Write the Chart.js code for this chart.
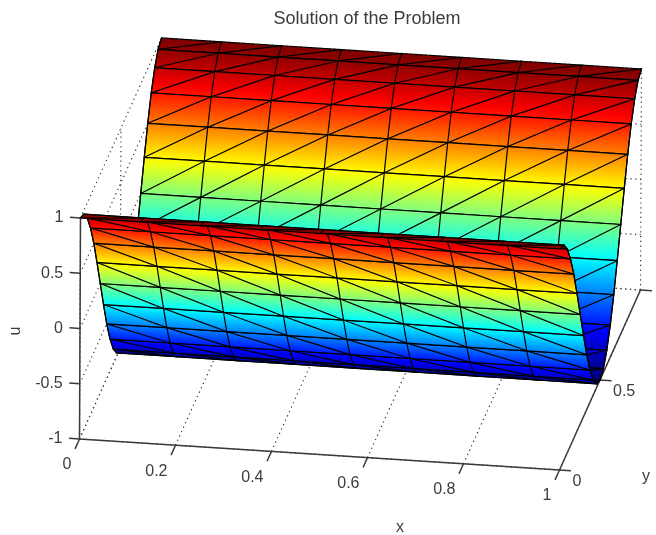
<!DOCTYPE html>
<html>
<head>
<meta charset="utf-8">
<title>Solution of the Problem</title>
<script src="https://cdn.jsdelivr.net/npm/chart.js@4/dist/chart.umd.min.js"></script>
<style>
  html, body { margin: 0; padding: 0; background: #fff; }
  canvas { display: block; }
</style>
</head>
<body>
<canvas id="mycanvas" width="656" height="535"></canvas>
<script>
// mesh nodes
var xNodes = [0, 0.125, 0.25, 0.375, 0.5, 0.625, 0.75, 0.875, 1];
var yNodes = [0, 0.042, 0.083, 0.125, 0.167, 0.208, 0.25, 0.292, 0.333, 0.375, 0.417, 0.458, 0.5,
              0.542, 0.583, 0.625, 0.667, 0.708, 0.75, 0.792, 0.833, 0.875, 0.917, 0.958, 1];
var uNodes = [1, 0.966, 0.866, 0.707, 0.5, 0.259, 0, -0.259, -0.5, -0.707, -0.866, -0.966, -1,
              -0.966, -0.866, -0.707, -0.5, -0.259, 0, 0.259, 0.5, 0.707, 0.866, 0.966, 1];

// axis ticks
var xTicks = [0, 0.2, 0.4, 0.6, 0.8, 1];
var yTicks = [0, 0.5, 1];
var uTicks = [-1, -0.5, 0, 0.5, 1];
var xTickLabels = ["0", "0.2", "0.4", "0.6", "0.8", "1"];
var yTickLabels = ["0", "0.5", ""];
var uTickLabels = ["-1", "-0.5", "0", "0.5", "1"];

var titleText = "Solution of the Problem";

// view of the box: where (0,0,-1) lands and what one unit of x, y, u moves
var view = { ox: 79.5, oy: 439, xx: 480, xy: 31, yx: 81, yy: -180, ux: 0.5, uy: -110.5 };

function project(x, y, u) {
  return {
    x: view.ox + x * view.xx + y * view.yx + (u + 1) * view.ux,
    y: view.oy + x * view.xy + y * view.yy + (u + 1) * view.uy
  };
}

function clamp(v) { return Math.max(0, Math.min(1, v)); }

// matlab jet
function jet(v) {
  var r = clamp(Math.min(4 * v - 1.5, -4 * v + 4.5));
  var g = clamp(Math.min(4 * v - 0.5, -4 * v + 3.5));
  var b = clamp(Math.min(4 * v + 0.5, -4 * v + 2.5));
  return "rgb(" + Math.round(r * 255) + "," + Math.round(g * 255) + "," + Math.round(b * 255) + ")";
}

function bandGradient(chart, j) {
  if (!chart.chartArea) return "transparent";  // asked once before layout
  var sx = chart.scales.x, sy = chart.scales.y;
  var a = project(0, yNodes[j], uNodes[j]);
  var b = project(0, yNodes[j + 1], uNodes[j + 1]);
  var ax = sx.getPixelForValue(a.x), ay = sy.getPixelForValue(a.y);
  var bx = sx.getPixelForValue(b.x), by = sy.getPixelForValue(b.y);
  if (!isFinite(ax) || !isFinite(ay)) return "transparent";
  // colour must stay constant along the x direction of the mesh
  var len = Math.sqrt(view.xx * view.xx + view.xy * view.xy);
  var nx = -view.xy / len, ny = view.xx / len;
  var d = (bx - ax) * nx + (by - ay) * ny;
  if (Math.abs(d) < 0.01) d = 0.01;
  var g = chart.ctx.createLinearGradient(ax, ay, ax + nx * d, ay + ny * d);
  for (var s = 0; s <= 6; s++) {
    var t = s / 6;
    var u = uNodes[j] + (uNodes[j + 1] - uNodes[j]) * t;
    g.addColorStop(t, jet((u + 1) / 2));
  }
  return g;
}

var drawList = [];  // in painting order, back first

function addLine(points, color, width, dash) {
  drawList.push({
    data: points, showLine: true, fill: false, pointRadius: 0,
    borderColor: color, borderWidth: width, borderDash: dash || [], tension: 0
  });
}

// dotted grid on the floor and the two back walls
var gridColor = "#333333", dots = [1.2, 3.6];
xTicks.forEach(function (x) {
  addLine([project(x, 0, -1), project(x, 1, -1)], gridColor, 1.2, dots);
  addLine([project(x, 1, -1), project(x, 1, 1)], gridColor, 1.2, dots);
});
yTicks.forEach(function (y) {
  addLine([project(0, y, -1), project(1, y, -1)], gridColor, 1.2, dots);
  addLine([project(0, y, -1), project(0, y, 1)], gridColor, 1.2, dots);
});
uTicks.forEach(function (u) {
  addLine([project(0, 0, u), project(0, 1, u)], gridColor, 1.2, dots);
  addLine([project(0, 1, u), project(1, 1, u)], gridColor, 1.2, dots);
});

// axis lines and ticks
var axisColor = "#3a3a3a";
addLine([project(0, 0, -1), project(0, 0, 1)], axisColor, 1.5);
addLine([project(0, 0, -1), project(1, 0, -1)], axisColor, 1.5);
addLine([project(1, 0, -1), project(1, 1, -1)], axisColor, 1.5);
uTicks.forEach(function (u) {
  addLine([project(0, 0, u), project(-0.022, 0, u)], axisColor, 1.5);
});
xTicks.forEach(function (x) {
  addLine([project(x, 0, -1), project(x, -0.055, -1)], axisColor, 1.5);
});
yTicks.forEach(function (y) {
  addLine([project(1, y, -1), project(1.024, y, -1)], axisColor, 1.5);
});

// surface bands from the far ridge to the near one, each with its mesh on top
for (var j = yNodes.length - 2; j >= 0; j--) {
  var band = [], zig = [];
  xNodes.forEach(function (x) { band.push(project(x, yNodes[j], uNodes[j])); });
  xNodes.slice().reverse().forEach(function (x) { band.push(project(x, yNodes[j + 1], uNodes[j + 1])); });
  band.push(band[0]);
  drawList.push({
    data: band, showLine: true, fill: "shape", pointRadius: 0, tension: 0,
    borderColor: "#000", borderWidth: 1.2,
    backgroundColor: (function (k) {
      return function (ctx) { return bandGradient(ctx.chart, k); };
    })(j)
  });
  xNodes.forEach(function (x, i) {
    zig.push(project(x, yNodes[j + 1], uNodes[j + 1]));
    zig.push(project(x, yNodes[j], uNodes[j]));
  });
  addLine(zig, "#000", 1.2);
}

// the library paints the first dataset last
var datasets = drawList.slice().reverse();

var boxLabels = {
  id: "boxLabels",
  afterDraw: function (chart) {
    var ctx = chart.ctx, sx = chart.scales.x, sy = chart.scales.y;
    function put(txt, px, py, align) {
      ctx.textAlign = align;
      ctx.fillText(txt, sx.getPixelForValue(px), sy.getPixelForValue(py));
    }
    ctx.save();
    ctx.fillStyle = "#3c3c3c";
    ctx.textBaseline = "middle";
    ctx.font = "16px 'Liberation Sans'";
    uTicks.forEach(function (u, i) {
      var p = project(0, 0, u);
      put(uTickLabels[i], p.x - 17, p.y, "right");
    });
    xTicks.forEach(function (x, i) {
      var p = project(x, 0, -1);
      put(xTickLabels[i], p.x - 8, p.y + 26, "right");
    });
    yTicks.forEach(function (y, i) {
      var p = project(1, y, -1);
      put(yTickLabels[i], p.x + 13, p.y + 12, "left");
    });
    put("x", 400, 528, "center");
    put("y", 646, 477, "center");
    ctx.translate(sx.getPixelForValue(16), sy.getPixelForValue(331));
    ctx.rotate(-Math.PI / 2);
    ctx.textAlign = "center";
    ctx.fillText("u", 0, 0);
    ctx.restore();
    ctx.save();
    ctx.fillStyle = "#3c3c3c";
    ctx.textBaseline = "middle";
    ctx.font = "18px 'Liberation Sans'";
    put(titleText, 367, 19, "center");
    ctx.restore();
  }
};

new Chart(document.getElementById("mycanvas").getContext("2d"), {
  type: "scatter",
  data: { datasets: datasets },
  plugins: [boxLabels],
  options: {
    responsive: false,
    animation: false,
    events: [],
    layout: { padding: 0 },
    scales: {
      x: { type: "linear", display: false, min: 0, max: 656 },
      y: { type: "linear", display: false, min: 0, max: 535, reverse: true }
    },
    plugins: { legend: { display: false }, tooltip: { enabled: false } }
  }
});
</script>
</body>
</html>
